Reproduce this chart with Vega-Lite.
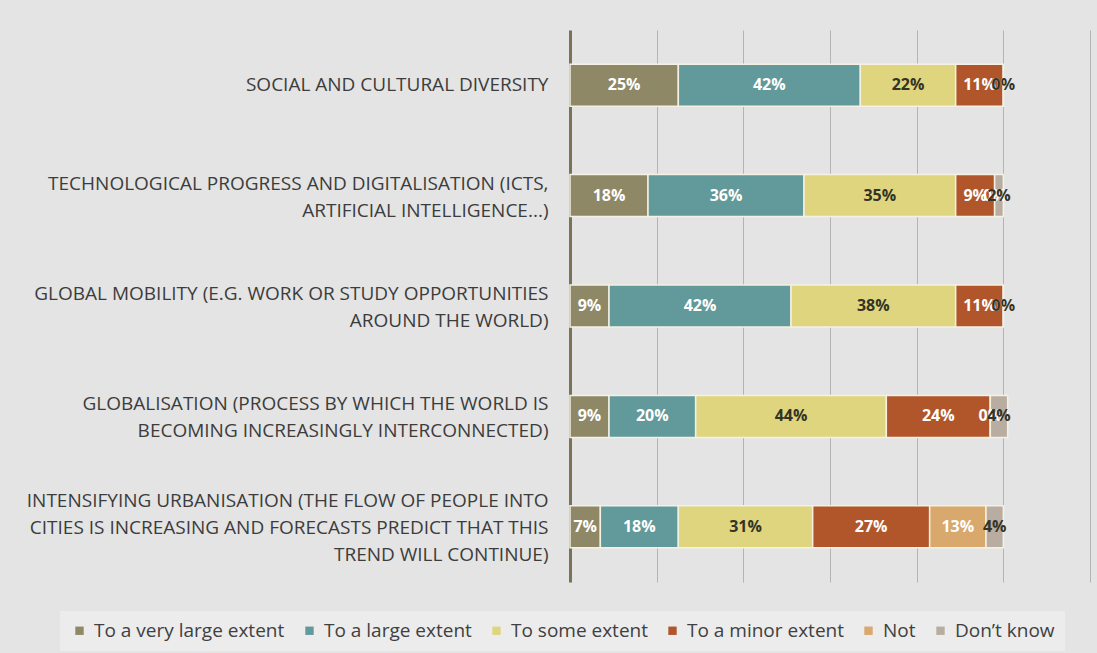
{
  "$schema": "https://vega.github.io/schema/vega-lite/v6.json",
  "width": 520,
  "height": 552,
  "autosize": {"type": "none"},
  "padding": {"left": 570, "top": 30, "right": 7, "bottom": 71},
  "background": "#e4e4e4",
  "config": {
    "view": {"stroke": null},
    "font": "Open Sans"
  },
  "data": {
    "values": [
      {"item": "SOCIAL AND CULTURAL DIVERSITY", "response": "To a very large extent", "order": 1, "value": 0.25},
      {"item": "SOCIAL AND CULTURAL DIVERSITY", "response": "To a large extent", "order": 2, "value": 0.42},
      {"item": "SOCIAL AND CULTURAL DIVERSITY", "response": "To some extent", "order": 3, "value": 0.22},
      {"item": "SOCIAL AND CULTURAL DIVERSITY", "response": "To a minor extent", "order": 4, "value": 0.11},
      {"item": "SOCIAL AND CULTURAL DIVERSITY", "response": "Not", "order": 5, "value": 0},
      {"item": "SOCIAL AND CULTURAL DIVERSITY", "response": "Don’t know", "order": 6, "value": 0},
      {"item": "TECHNOLOGICAL PROGRESS AND DIGITALISATION (ICTS,|ARTIFICIAL INTELLIGENCE...)", "response": "To a very large extent", "order": 1, "value": 0.18},
      {"item": "TECHNOLOGICAL PROGRESS AND DIGITALISATION (ICTS,|ARTIFICIAL INTELLIGENCE...)", "response": "To a large extent", "order": 2, "value": 0.36},
      {"item": "TECHNOLOGICAL PROGRESS AND DIGITALISATION (ICTS,|ARTIFICIAL INTELLIGENCE...)", "response": "To some extent", "order": 3, "value": 0.35},
      {"item": "TECHNOLOGICAL PROGRESS AND DIGITALISATION (ICTS,|ARTIFICIAL INTELLIGENCE...)", "response": "To a minor extent", "order": 4, "value": 0.09},
      {"item": "TECHNOLOGICAL PROGRESS AND DIGITALISATION (ICTS,|ARTIFICIAL INTELLIGENCE...)", "response": "Not", "order": 5, "value": 0},
      {"item": "TECHNOLOGICAL PROGRESS AND DIGITALISATION (ICTS,|ARTIFICIAL INTELLIGENCE...)", "response": "Don’t know", "order": 6, "value": 0.02},
      {"item": "GLOBAL MOBILITY (E.G. WORK OR STUDY OPPORTUNITIES|AROUND THE WORLD)", "response": "To a very large extent", "order": 1, "value": 0.09},
      {"item": "GLOBAL MOBILITY (E.G. WORK OR STUDY OPPORTUNITIES|AROUND THE WORLD)", "response": "To a large extent", "order": 2, "value": 0.42},
      {"item": "GLOBAL MOBILITY (E.G. WORK OR STUDY OPPORTUNITIES|AROUND THE WORLD)", "response": "To some extent", "order": 3, "value": 0.38},
      {"item": "GLOBAL MOBILITY (E.G. WORK OR STUDY OPPORTUNITIES|AROUND THE WORLD)", "response": "To a minor extent", "order": 4, "value": 0.11},
      {"item": "GLOBAL MOBILITY (E.G. WORK OR STUDY OPPORTUNITIES|AROUND THE WORLD)", "response": "Not", "order": 5, "value": 0},
      {"item": "GLOBAL MOBILITY (E.G. WORK OR STUDY OPPORTUNITIES|AROUND THE WORLD)", "response": "Don’t know", "order": 6, "value": 0},
      {"item": "GLOBALISATION (PROCESS BY WHICH THE WORLD IS|BECOMING INCREASINGLY INTERCONNECTED)", "response": "To a very large extent", "order": 1, "value": 0.09},
      {"item": "GLOBALISATION (PROCESS BY WHICH THE WORLD IS|BECOMING INCREASINGLY INTERCONNECTED)", "response": "To a large extent", "order": 2, "value": 0.20},
      {"item": "GLOBALISATION (PROCESS BY WHICH THE WORLD IS|BECOMING INCREASINGLY INTERCONNECTED)", "response": "To some extent", "order": 3, "value": 0.44},
      {"item": "GLOBALISATION (PROCESS BY WHICH THE WORLD IS|BECOMING INCREASINGLY INTERCONNECTED)", "response": "To a minor extent", "order": 4, "value": 0.24},
      {"item": "GLOBALISATION (PROCESS BY WHICH THE WORLD IS|BECOMING INCREASINGLY INTERCONNECTED)", "response": "Not", "order": 5, "value": 0},
      {"item": "GLOBALISATION (PROCESS BY WHICH THE WORLD IS|BECOMING INCREASINGLY INTERCONNECTED)", "response": "Don’t know", "order": 6, "value": 0.04},
      {"item": "INTENSIFYING URBANISATION (THE FLOW OF PEOPLE INTO|CITIES IS INCREASING AND FORECASTS PREDICT THAT THIS|TREND WILL CONTINUE)", "response": "To a very large extent", "order": 1, "value": 0.07},
      {"item": "INTENSIFYING URBANISATION (THE FLOW OF PEOPLE INTO|CITIES IS INCREASING AND FORECASTS PREDICT THAT THIS|TREND WILL CONTINUE)", "response": "To a large extent", "order": 2, "value": 0.18},
      {"item": "INTENSIFYING URBANISATION (THE FLOW OF PEOPLE INTO|CITIES IS INCREASING AND FORECASTS PREDICT THAT THIS|TREND WILL CONTINUE)", "response": "To some extent", "order": 3, "value": 0.31},
      {"item": "INTENSIFYING URBANISATION (THE FLOW OF PEOPLE INTO|CITIES IS INCREASING AND FORECASTS PREDICT THAT THIS|TREND WILL CONTINUE)", "response": "To a minor extent", "order": 4, "value": 0.27},
      {"item": "INTENSIFYING URBANISATION (THE FLOW OF PEOPLE INTO|CITIES IS INCREASING AND FORECASTS PREDICT THAT THIS|TREND WILL CONTINUE)", "response": "Not", "order": 5, "value": 0.13},
      {"item": "INTENSIFYING URBANISATION (THE FLOW OF PEOPLE INTO|CITIES IS INCREASING AND FORECASTS PREDICT THAT THIS|TREND WILL CONTINUE)", "response": "Don’t know", "order": 6, "value": 0.04}
    ]
  },
  "encoding": {
    "y": {
      "field": "item",
      "type": "nominal",
      "sort": null,
      "title": null,
      "scale": {"paddingInner": 0.62, "paddingOuter": 0.31},
      "axis": {
        "labelExpr": "split(datum.label, '|')",
        "labelFont": "Open Sans",
        "labelFontSize": 19,
        "labelColor": "#3c3c3c",
        "labelLineHeight": 27,
        "labelPadding": 22,
        "labelLimit": 600,
        "labelOffset": {
          "condition": [
            {"test": "length(split(datum.value, '|')) == 3", "value": -26},
            {"test": "length(split(datum.value, '|')) == 2", "value": -12}
          ],
          "value": 0
        },
        "ticks": false,
        "domainColor": "#7a7354",
        "domainWidth": 3,
        "grid": false
      }
    },
    "x": {
      "field": "value",
      "type": "quantitative",
      "stack": "zero",
      "title": null,
      "scale": {"domain": [0, 1.2], "nice": false},
      "axis": {
        "values": [0.2, 0.4, 0.6, 0.8, 1.0, 1.2],
        "labels": false,
        "ticks": false,
        "domain": false,
        "grid": true,
        "gridColor": "#b4b4b4",
        "gridWidth": 1
      }
    },
    "order": {"field": "order", "type": "quantitative"}
  },
  "layer": [
    {
      "mark": {"type": "bar", "stroke": "#f4f1e4", "strokeWidth": 1.5},
      "encoding": {
        "color": {
          "field": "response",
          "type": "nominal",
          "title": null,
          "scale": {
            "domain": ["To a very large extent", "To a large extent", "To some extent", "To a minor extent", "Not", "Don’t know"],
            "range": ["#8f8867", "#62999a", "#dfd57e", "#b0562a", "#d8a86c", "#b8ada0"]
          },
          "legend": {
            "orient": "none",
            "legendX": -510,
            "legendY": 581,
            "direction": "horizontal",
            "columns": 6,
            "padding": 10,
            "fillColor": "#ececec",
            "symbolType": "square",
            "symbolSize": 70,
            "symbolStrokeWidth": 0,
            "labelFont": "Open Sans",
            "labelFontSize": 19,
            "labelColor": "#404040",
            "columnPadding": 15,
            "labelOffset": 5,
            "labelLimit": 300
          }
        }
      }
    },
    {
      "mark": {"type": "text", "fontWeight": "bold", "fontSize": 16, "font": "Open Sans"},
      "encoding": {
        "x": {"field": "value", "type": "quantitative", "stack": "zero", "bandPosition": 0.5},
        "text": {"field": "value", "type": "quantitative", "format": ".0%"},
        "color": {
          "field": "response",
          "type": "nominal",
          "scale": {
            "domain": ["To a very large extent", "To a large extent", "To some extent", "To a minor extent", "Not", "Don’t know"],
            "range": ["#ffffff", "#ffffff", "#333326", "#ffffff", "#ffffff", "#333326"]
          },
          "legend": null
        }
      }
    }
  ],
  "resolve": {"scale": {"color": "independent"}}
}
